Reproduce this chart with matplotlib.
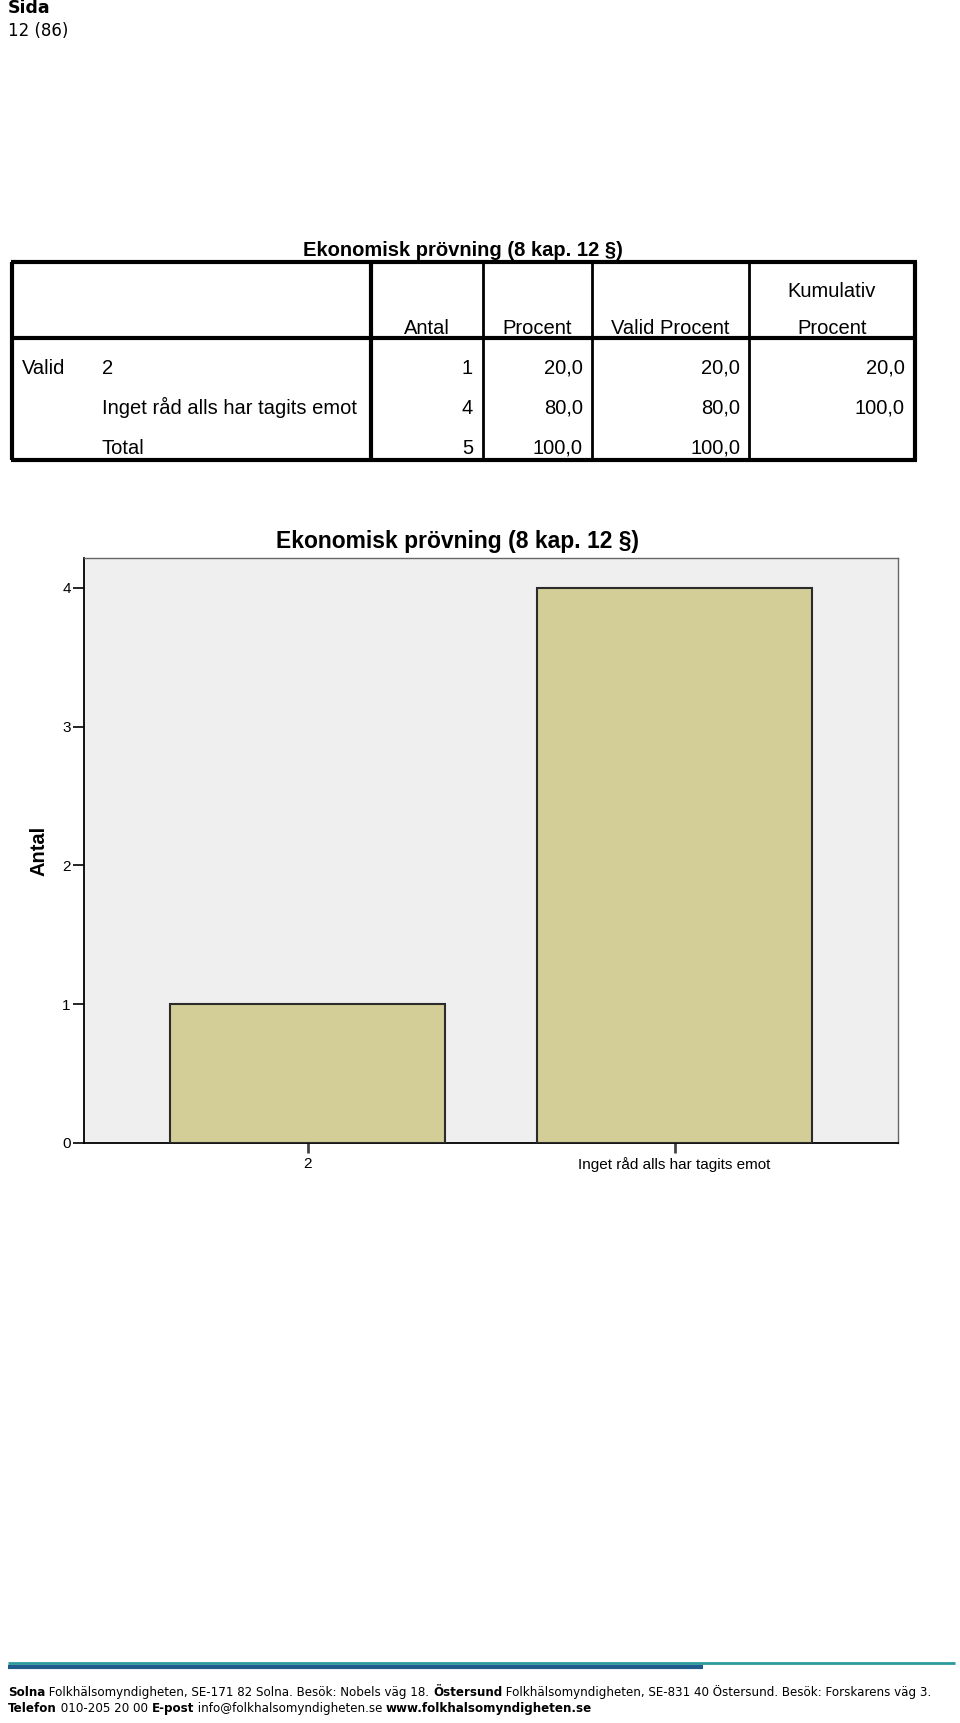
import matplotlib
matplotlib.use("Agg")
import matplotlib.pyplot as plt
from matplotlib.lines import Line2D

# data
categories = ["2", "Inget råd alls har tagits emot"]
counts = [1, 4]
percent = [20.0, 80.0]
valid_percent = [20.0, 80.0]
cum_percent = [20.0, 100.0]
total_count = 5
total_percent = 100.0
title = "Ekonomisk prövning (8 kap. 12 §)"
col_headers = ["Antal", "Procent", "Valid Procent", "Procent"]

W, H = 960, 1723
fig = plt.figure(figsize=(W / 100, H / 100), dpi=100)
plt.rcParams['font.family'] = ['Liberation Sans', 'DejaVu Sans']


def fx(x):
    return x / W


def fy(y):
    return 1 - y / H


def txt(x, y, s, **kw):
    fig.text(fx(x), fy(y), s, **kw)


def hline(x0, x1, y, lw, color="black"):
    fig.add_artist(Line2D([fx(x0), fx(x1)], [fy(y), fy(y)], lw=lw, color=color,
                          transform=fig.transFigure, solid_capstyle="butt"))


def vline(x, y0, y1, lw, color="black"):
    fig.add_artist(Line2D([fx(x), fx(x)], [fy(y0), fy(y1)], lw=lw, color=color,
                          transform=fig.transFigure, solid_capstyle="butt"))


def fmt(v):
    return ("%.1f" % v).replace(".", ",")


# page header
txt(8, 8, "Sida", fontsize=12.5, fontweight="bold", family="DejaVu Sans", va="center")
txt(8, 31, "12 (86)", fontsize=12, family="DejaVu Sans", va="center")

# table (y values are baselines)
tfs = 14.5
txt(463, 256, title, fontsize=tfs, fontweight="bold", ha="center", va="baseline")
left, right, top, mid, bottom = 12, 915, 262, 338, 460
hline(left - 1.5, right + 1.5, top, 3)
hline(left - 1.5, right + 1.5, bottom, 3)
hline(left, right, mid, 3)
vline(left, top, bottom, 3)
vline(right, top, bottom, 3)
vline(371, top, bottom, 3)
for x in [483, 592, 749]:
    vline(x, top, bottom, 2)

header_x = [427, 537, 670, 832]
for hx, h in zip(header_x, col_headers):
    txt(hx, 334, h, fontsize=tfs, ha="center", va="baseline")
txt(832, 297, "Kumulativ", fontsize=tfs, ha="center", va="baseline")

right_x = [473, 583, 740, 905]
row_y = [374, 414, 454]
txt(22, row_y[0], "Valid", fontsize=tfs, va="baseline")
for i, cat in enumerate(categories):
    txt(102, row_y[i], cat, fontsize=tfs, va="baseline")
    vals = [str(counts[i]), fmt(percent[i]), fmt(valid_percent[i]), fmt(cum_percent[i])]
    for rx, v in zip(right_x, vals):
        txt(rx, row_y[i], v, fontsize=tfs, ha="right", va="baseline")
txt(102, row_y[2], "Total", fontsize=tfs, va="baseline")
for rx, v in zip(right_x[:3], [str(total_count), fmt(total_percent), fmt(total_percent)]):
    txt(rx, row_y[2], v, fontsize=tfs, ha="right", va="baseline")

# bar chart
ax = fig.add_axes([fx(84), fy(1143), (898 - 84) / W, (1143 - 558) / H])
ax.set_facecolor("#efefef")
pos = list(range(len(categories)))
ax.bar(pos, counts, width=0.75, color="#d3ce97", edgecolor="#2b2b2b", linewidth=1.5, zorder=3)
ax.set_xlim(-0.61, 1.609)
ax.set_ylim(0, 4.216)
ax.set_yticks(range(0, 5))
ax.set_xticks(pos)
ax.set_xticklabels(categories, fontsize=11)
ax.tick_params(axis="y", labelsize=11, length=8, width=1.2, pad=1.5)
ax.tick_params(axis="x", length=7, width=2, color="#444444", pad=3)
for s in ["top", "right"]:
    ax.spines[s].set_color("#666666")
    ax.spines[s].set_linewidth(1)
for s in ["left", "bottom"]:
    ax.spines[s].set_color("black")
    ax.spines[s].set_linewidth(1.3)
ax.set_ylabel("Antal", fontsize=14.5, fontweight="bold", labelpad=10)
txt(458, 548, title, fontsize=16.5, fontweight="bold", ha="center", va="baseline")

# footer
hline(8, 955, 1663, 2, color="#2a9a9a")
hline(8, 703, 1667, 3, color="#1f5c8c")

renderer = fig.canvas.get_renderer()


def rich_line(x, y, parts, size):
    for s, w in parts:
        t = fig.text(fx(x), fy(y), s, fontsize=size, fontweight=w,
                     family="DejaVu Sans", va="baseline")
        bb = t.get_window_extent(renderer)
        x += bb.width


line1 = [("Solna", "bold"), (" Folkhälsomyndigheten, SE-171 82 Solna. Besök: Nobels väg 18. ", "normal"),
         ("Östersund", "bold"), (" Folkhälsomyndigheten, SE-831 40 Östersund. Besök: Forskarens väg 3.", "normal")]
line2 = [("Telefon", "bold"), (" 010-205 20 00 ", "normal"), ("E-post", "bold"),
         (" info@folkhalsomyndigheten.se ", "normal"), ("www.folkhalsomyndigheten.se", "bold")]
rich_line(8, 1696, line1, 8.6)
rich_line(8, 1712, line2, 8.6)

fig.savefig("out.png", dpi=100)
